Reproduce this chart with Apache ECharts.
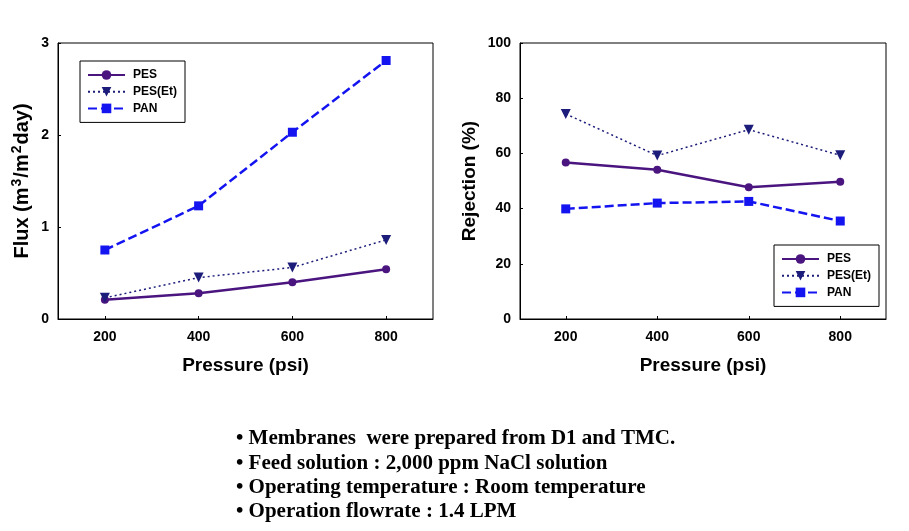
<!DOCTYPE html>
<html>
<head>
<meta charset="utf-8">
<script src="https://cdn.jsdelivr.net/npm/echarts@6/dist/echarts.min.js"></script>
<style>html,body{margin:0;padding:0;background:#fff;}#c{width:909px;height:531px;}</style>
</head>
<body>
<div id="c"></div>
<script>
const pressure = [200, 400, 600, 800];
const xTicks = [200, 400, 600, 800];
const seriesNames = ['PES', 'PES(Et)', 'PAN'];
const fluxPES = [0.21, 0.28, 0.40, 0.54];
const fluxPESEt = [0.23, 0.45, 0.56, 0.86];
const fluxPAN = [0.75, 1.23, 2.03, 2.81];
const rejPES = [56.7, 54.1, 47.7, 49.7];
const rejPESEt = [74.3, 59.2, 68.6, 59.3];
const rejPAN = [39.9, 42.0, 42.6, 35.5];
const notes = [
  '\u2022 Membranes  were prepared from D1 and TMC.',
  '\u2022 Feed solution : 2,000 ppm NaCl solution',
  '\u2022 Operating temperature : Room temperature',
  '\u2022 Operation flowrate : 1.4 LPM'
];

const colPES = '#4b1580', colEt = '#1c1c7a', colPAN = '#1414f0';
const styles = [
  {color: colPES, symbol: 'circle', symbolSize: 8, line: {type: 'solid', width: 2.5}},
  {color: colEt, symbol: 'triangle', symbolSize: 10, symbolRotate: 180, line: {type: [2, 3], width: 1.5}},
  {color: colPAN, symbol: 'rect', symbolSize: 9, line: {type: [9, 4], width: 2.5}}
];
const pair = arr => pressure.map((p, i) => [p, arr[i]]);
const fluxData = [fluxPES, fluxPESEt, fluxPAN];
const rejData = [rejPES, rejPESEt, rejPAN];

const font = 'Arial, "Liberation Sans", sans-serif';
function xAxis(gi) {
  return {
    type: 'value', gridIndex: gi, min: 100, max: 900, interval: 100,
    name: 'Pressure (psi)', nameLocation: 'middle', nameGap: 37,
    nameTextStyle: {fontFamily: font, fontWeight: 'bold', fontSize: 19, color: '#000'},
    axisLine: {lineStyle: {color: '#000', width: 1}},
    axisTick: {inside: true, length: 3, customValues: xTicks, lineStyle: {color: '#000'}},
    axisLabel: {customValues: xTicks, margin: 11, fontFamily: font, fontWeight: 'bold', fontSize: 14, color: '#000'},
    splitLine: {show: false}
  };
}
function yAxis(gi, max, interval, name, gap, fs) {
  return {
    type: 'value', gridIndex: gi, min: 0, max: max, interval: interval,
    name: name, nameLocation: 'middle', nameGap: gap, nameRotate: 90,
    nameTextStyle: {fontFamily: font, fontWeight: 'bold', fontSize: fs, color: '#000',
      rich: {a: {fontFamily: font, fontWeight: 'bold', fontSize: fs, color: '#000'},
             s: {fontFamily: font, fontWeight: 'bold', fontSize: 14, color: '#000', padding: [0, 1, 10, 1]}}},
    axisLine: {lineStyle: {color: '#000', width: 1}},
    axisTick: {inside: true, length: 3, lineStyle: {color: '#000'}},
    axisLabel: {margin: 9, fontFamily: font, fontWeight: 'bold', fontSize: 14, color: '#000'},
    splitLine: {show: false}
  };
}
const series = [];
[fluxData, rejData].forEach((set, gi) => {
  set.forEach((arr, k) => {
    const st = styles[k];
    series.push({
      name: seriesNames[k], type: 'line', xAxisIndex: gi, yAxisIndex: gi,
      data: pair(arr), symbol: st.symbol, symbolSize: st.symbolSize,
      symbolRotate: st.symbolRotate || 0,
      itemStyle: {color: st.color},
      lineStyle: {color: st.color, type: st.line.type, width: st.line.width},
      animation: false
    });
  });
});
function legend(left, top) {
  return {
    data: seriesNames, orient: 'vertical', left: left, top: top,
    itemWidth: 37, itemHeight: 12, itemGap: 4.7,
    padding: [8, 8, 8, 7],
    borderColor: '#000', borderWidth: 1, backgroundColor: '#fff',
    selectedMode: false,
    textStyle: {fontFamily: font, fontWeight: 'bold', fontSize: 12, color: '#000', lineHeight: 12, padding: [0, 0, 0, 3]}
  };
}
const graphic = notes.map((t, i) => ({
  type: 'text', left: 236, top: 428.5 + i * 24.3,
  style: {text: t, font: 'bold 21px "Liberation Serif", "Times New Roman", serif', fill: '#000'}
}));

const chart = echarts.init(document.getElementById('c'), null, {renderer: 'canvas'});
chart.setOption({
  animation: false,
  backgroundColor: '#fff',
  grid: [
    {left: 58, width: 375, top: 43, height: 276, show: true, borderColor: '#000', borderWidth: 1},
    {left: 520, width: 366, top: 43, height: 276, show: true, borderColor: '#000', borderWidth: 1}
  ],
  xAxis: [xAxis(0), xAxis(1)],
  yAxis: [yAxis(0, 3, 1, '{a|Flux (m}{s|3}{a|/m}{s|2}{a|day)}', 24, 20), yAxis(1, 100, 20, 'Rejection (%)', 41, 19)],
  legend: [legend(80, 61), legend(774, 245)],
  series: series,
  graphic: graphic
});
</script>
</body>
</html>
